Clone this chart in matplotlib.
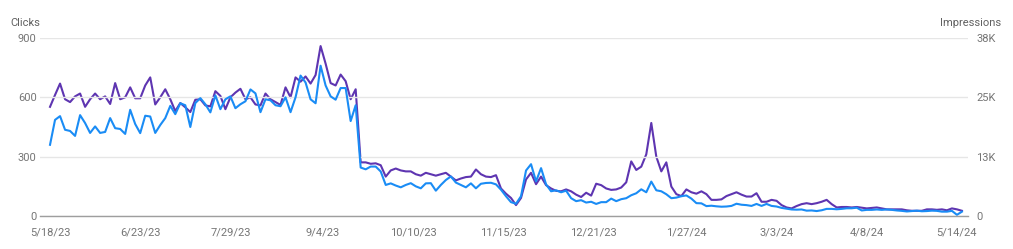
import numpy as np
import pandas as pd
import matplotlib
matplotlib.use('Agg')
import matplotlib.pyplot as plt
from matplotlib.ticker import FuncFormatter

plt.rcParams['font.family'] = ['Roboto', 'DejaVu Sans']

# daily search data, read every second day from 5/18/23
start = '2023-05-18'
clicks = [360, 486, 505, 436, 430, 405, 510, 470, 420, 453,
          420, 425, 495, 444, 440, 415, 537, 465, 419, 507,
          503, 420, 460, 495, 557, 515, 570, 560, 450, 571,
          596, 565, 524, 610, 540, 590, 605, 545, 565, 580,
          640, 620, 525, 590, 585, 560, 555, 600, 525, 600,
          710, 675, 590, 570, 760, 660, 605, 588, 647, 647,
          480, 560, 245, 236, 250, 250, 225, 157, 165, 154,
          145, 157, 166, 150, 140, 165, 166, 128, 157, 182,
          200, 169, 157, 145, 165, 140, 163, 167, 168, 160,
          133, 100, 70, 62, 100, 230, 262, 175, 242, 160,
          125, 130, 120, 128, 90, 75, 80, 68, 72, 61,
          70, 70, 88, 75, 85, 90, 105, 115, 135, 120,
          174, 130, 125, 110, 90, 93, 100, 104, 88, 65,
          64, 50, 52, 49, 47, 48, 51, 62, 57, 55,
          51, 61, 51, 61, 51, 48, 41, 37, 33, 32,
          33, 27, 28, 25, 29, 36, 36, 34, 36, 39,
          39, 42, 28, 31, 31, 33, 31, 33, 31, 28,
          26, 23, 25, 27, 24, 25, 27, 26, 22, 22,
          26, 6, 22]
impressions = [23000, 25500, 27900, 24600, 24000, 25200, 25800, 23000, 24600, 25800,
               24600, 25200, 23600, 28000, 24600, 25000, 27100, 24800, 24800, 27500,
               29200, 23500, 25000, 26700, 24600, 22100, 23800, 22900, 21900, 24500,
               24600, 23300, 23100, 26300, 25300, 22500, 25000, 26000, 26800, 24600,
               25000, 23500, 23300, 25800, 24600, 24000, 23400, 27100, 25000, 29200,
               28300, 29400, 27900, 29700, 35800, 32100, 28000, 27500, 29800, 28400,
               24600, 26700, 11300, 11300, 11000, 11100, 10700, 8300, 9600, 10000,
               9600, 9400, 9400, 8800, 8500, 9100, 8800, 8500, 8800, 9100,
               8300, 7500, 7900, 8200, 8300, 9800, 8800, 8300, 8200, 8600,
               5800, 4700, 3800, 2300, 3800, 7700, 9100, 6700, 8300, 6500,
               5800, 5300, 5200, 5600, 5200, 4500, 4000, 4900, 4300, 6800,
               6500, 5800, 5500, 5600, 6000, 7100, 11500, 9700, 10400, 13000,
               19600, 12500, 9400, 11300, 6200, 4600, 4200, 5600, 5000, 4700,
               5200, 4600, 3400, 3400, 3500, 4200, 4600, 5000, 4500, 4100,
               4100, 4800, 3000, 3000, 3400, 3200, 2300, 1800, 1600, 2100,
               2500, 2700, 2500, 2700, 3000, 3400, 2500, 1800, 1900, 1900,
               1800, 1900, 1750, 1600, 1700, 1800, 1600, 1400, 1400, 1400,
               1400, 1200, 1100, 1100, 1100, 1400, 1400, 1300, 1400, 1200,
               1600, 1400, 1100]
tick_dates = ['2023-05-18', '2023-06-23', '2023-07-29', '2023-09-04', '2023-10-10',
              '2023-11-15', '2023-12-21', '2024-01-27', '2024-03-03', '2024-04-08',
              '2024-05-14']
tick_labels = ['5/18/23', '6/23/23', '7/29/23', '9/4/23', '10/10/23', '11/15/23',
               '12/21/23', '1/27/24', '3/3/24', '4/8/24', '5/14/24']
click_ticks = [0, 300, 600, 900]
imp_ticks = [0, 12500, 25000, 37500]

dates = pd.date_range(start, periods=len(clicks), freq='2D')

W, H = 1013, 249
fig = plt.figure(figsize=(W/100, H/100), dpi=100)
ax = fig.add_axes([40/W, 1-216/H, 928/W, 178/H])
ax2 = ax.twinx()

ax2.plot(dates, impressions, color='#5e35b1', lw=1.5, clip_on=False)
ax.plot(dates, clicks, color='#1a8cf5', lw=1.5, clip_on=False)

# blue line drawn above the purple one
ax.set_zorder(ax2.get_zorder()+1)
ax.patch.set_visible(False)

ax.set_xlim(pd.Timestamp('2023-05-14'), pd.Timestamp('2024-05-18 10:00'))
ax.set_xticks(pd.to_datetime(tick_dates))
ax.set_xticklabels(tick_labels)

ax.set_ylim(0, 900)
ax.set_yticks(click_ticks)
ax2.set_ylim(0, 37500)
ax2.set_yticks(imp_ticks)
ax2.yaxis.set_major_formatter(FuncFormatter(lambda v, p: '0' if v == 0 else '%dK' % int(v/1000+0.5)))

ax.yaxis.grid(True, color='#e6e6e6', lw=1)
ax.set_axisbelow(True)
for a in (ax, ax2):
    for s in ['top', 'left', 'right']:
        a.spines[s].set_visible(False)
    a.spines['bottom'].set_visible(False)
ax.spines['bottom'].set_visible(True)
ax.spines['bottom'].set_color('#9e9e9e')
ax.spines['bottom'].set_linewidth(1)

lc = '#757575'
ax.tick_params(axis='y', length=0, labelsize=8, labelcolor=lc, pad=2.5)
ax.tick_params(axis='x', length=0, labelsize=8, labelcolor=lc, pad=8.5)
ax2.tick_params(axis='y', length=0, labelsize=8, labelcolor=lc, pad=5.8)

fig.text(10/W, 1-23.5/H, 'Clicks', ha='left', va='center', fontsize=8, color='#616161')
fig.text(1001/W, 1-23.5/H, 'Impressions', ha='right', va='center', fontsize=8, color='#616161')

fig.savefig('out.png', dpi=100)
